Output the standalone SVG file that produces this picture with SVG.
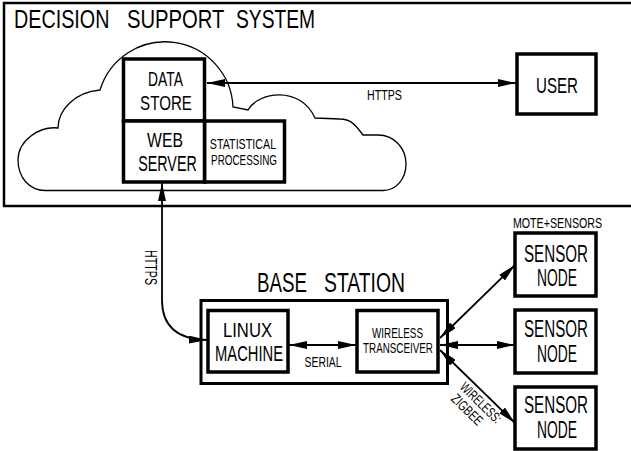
<svg xmlns="http://www.w3.org/2000/svg" width="631" height="451" viewBox="0 0 631 451">
<style>
  text { font-family: "Liberation Sans", "DejaVu Sans", sans-serif; fill: #000; }
  .c { text-anchor: middle; }
  .box { fill: #fff; stroke: #000; stroke-width: 3.5; }
  .frame { fill: none; stroke: #000; stroke-width: 2.5; }
  .cloud { fill: none; stroke: #000; stroke-width: 1.3; }
  .conn { fill: none; stroke: #000; stroke-width: 1.8; }
</style>
<defs>
  <marker id="ah" viewBox="0 0 18 8" refX="18" refY="4" markerWidth="18" markerHeight="8" markerUnits="userSpaceOnUse" orient="auto-start-reverse">
    <path d="M0,0 L18,4 L0,8 z" fill="#000"/>
  </marker>
</defs>
<rect width="631" height="451" fill="#fff"/>

<g id="dss">
  <rect class="frame" x="4" y="3" width="640" height="203"/>
  <text transform="translate(14,28) scale(0.79,1)" font-size="25">DECISION</text>
  <text transform="translate(127,28) scale(0.81,1)" font-size="25">SUPPORT</text>
  <text transform="translate(236,28) scale(0.77,1)" font-size="25">SYSTEM</text>
  <path class="cloud" d="M45,190.5 H383 C396,190.5 406,179 406,164 C406,148 394,135 378,135 H363 C355,124 350,119 340,119 L315,118 C300,85 258,92 248,110 L233,107 A68,68 0 0 0 100,90 C75,92 58,110 58,128 C40,126 18,140 18,160 C18,178 30,190.5 45,190.5 Z"/>
</g>

<g id="data-store">
  <rect class="box" x="123.5" y="59" width="81" height="62"/>
  <text class="c" transform="translate(165.5,86) scale(0.66,1)" font-size="21">DATA</text>
  <text class="c" transform="translate(166,110) scale(0.72,1)" font-size="21">STORE</text>
</g>
<g id="stat-processing">
  <rect class="box" x="204.5" y="121" width="80" height="61"/>
  <text class="c" transform="translate(243,148.5) scale(0.767,1)" font-size="14">STATISTICAL</text>
  <text class="c" transform="translate(244,165) scale(0.707,1)" font-size="14">PROCESSING</text>
</g>
<g id="web-server">
  <rect class="box" x="123.5" y="121" width="81" height="61"/>
  <text class="c" transform="translate(165,147) scale(0.75,1)" font-size="21">WEB</text>
  <text class="c" transform="translate(167.5,171) scale(0.65,1)" font-size="22">SERVER</text>
</g>
<g id="user">
  <rect class="box" x="517" y="54" width="79" height="60"/>
  <text class="c" transform="translate(557,93) scale(0.687,1)" font-size="22">USER</text>
</g>

<g id="base-station">
  <text transform="translate(257,292) scale(0.669,1)" font-size="28">BASE</text>
  <text transform="translate(324,292) scale(0.692,1)" font-size="28">STATION</text>
  <rect fill="none" stroke="#000" stroke-width="3" x="201" y="300.5" width="246.5" height="83"/>
</g>
<g id="linux-machine">
  <rect class="box" x="208" y="310.5" width="80" height="61.5"/>
  <text class="c" transform="translate(247.5,336.5) scale(0.793,1)" font-size="21">LINUX</text>
  <text class="c" transform="translate(249,360.5) scale(0.67,1)" font-size="22">MACHINE</text>
</g>
<g id="wireless-transceiver">
  <rect class="box" x="357" y="310.5" width="81" height="61.5"/>
  <text class="c" transform="translate(397.5,338) scale(0.658,1)" font-size="15">WIRELESS</text>
  <text class="c" transform="translate(398,353) scale(0.656,1)" font-size="15">TRANSCEIVER</text>
</g>

<text class="c" transform="translate(557.5,228) scale(0.763,1)" font-size="14">MOTE+SENSORS</text>
<g id="sensor-node-1">
  <rect class="box" x="515" y="233" width="81" height="63"/>
  <text class="c" transform="translate(556,261.5) scale(0.659,1)" font-size="23">SENSOR</text>
  <text class="c" transform="translate(557,286) scale(0.602,1)" font-size="23">NODE</text>
</g>
<g id="sensor-node-2">
  <rect class="box" x="515" y="310" width="81" height="63"/>
  <text class="c" transform="translate(556,336.5) scale(0.659,1)" font-size="23">SENSOR</text>
  <text class="c" transform="translate(557,361.5) scale(0.602,1)" font-size="23">NODE</text>
</g>
<g id="sensor-node-3">
  <rect class="box" x="515" y="387" width="81" height="62"/>
  <text class="c" transform="translate(556,413) scale(0.659,1)" font-size="23">SENSOR</text>
  <text class="c" transform="translate(557,438) scale(0.602,1)" font-size="23">NODE</text>
</g>

<g id="connectors">
  <line class="conn" x1="207" y1="83" x2="516" y2="83" marker-start="url(#ah)" marker-end="url(#ah)"/>
  <text class="c" transform="translate(384.5,100) scale(0.689,1)" font-size="15.5">HTTPS</text>
  <path class="conn" d="M162,183 V300 Q162,339 207,340" marker-start="url(#ah)" marker-end="url(#ah)"/>
  <text class="c" transform="translate(151,267.5) rotate(90) scale(0.668,1)" x="0" y="5.5" font-size="16">HTTPS</text>
  <line class="conn" x1="289" y1="345" x2="356" y2="345" marker-start="url(#ah)" marker-end="url(#ah)"/>
  <text class="c" transform="translate(323,366.5) scale(0.693,1)" font-size="15">SERIAL</text>
  <line class="conn" x1="440" y1="338" x2="515" y2="265" marker-start="url(#ah)" marker-end="url(#ah)"/>
  <line class="conn" x1="440" y1="345" x2="515" y2="345" marker-start="url(#ah)" marker-end="url(#ah)"/>
  <line class="conn" x1="440" y1="350" x2="515" y2="423" marker-start="url(#ah)" marker-end="url(#ah)"/>
  <g transform="translate(485.8,394.7) rotate(44.2)">
    <text class="c" transform="translate(2,14) scale(0.68,1)" font-size="14">WIRELESS:</text>
    <text class="c" transform="translate(-3,28.5) scale(0.74,1)" font-size="14">ZIGBEE</text>
  </g>
</g>
</svg>
